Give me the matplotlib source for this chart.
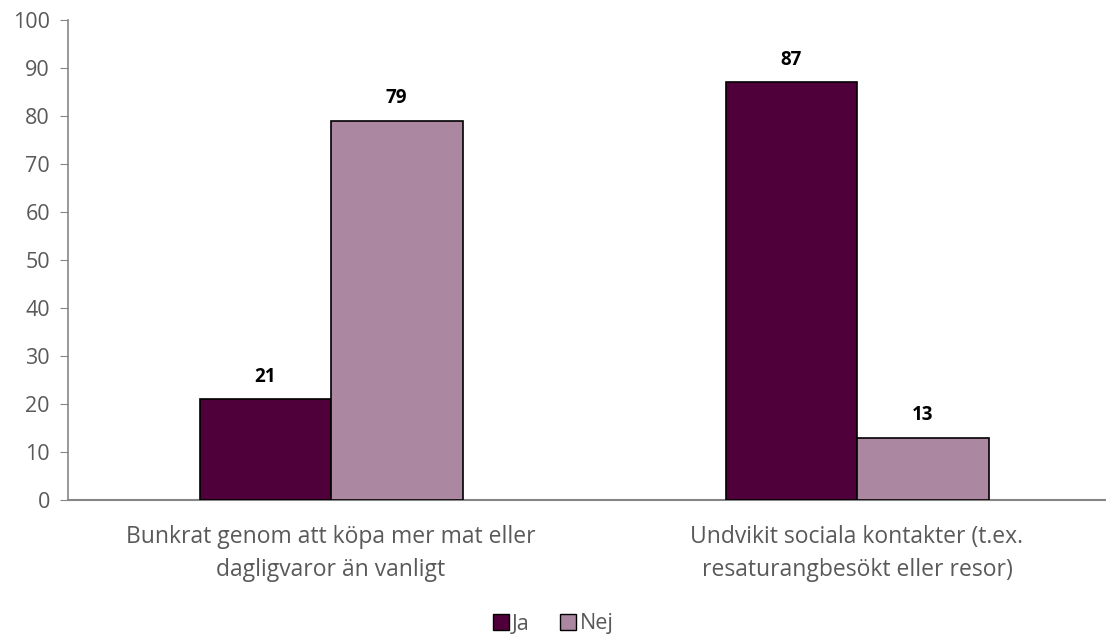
import matplotlib
matplotlib.use("Agg")
import matplotlib.pyplot as plt
import numpy as np
from matplotlib.patches import Patch

categories = ["Bunkrat genom att köpa mer mat eller\ndagligvaror än vanligt",
              "Undvikit sociala kontakter (t.ex.\nresaturangbesökt eller resor)"]
series_names = ["Ja", "Nej"]
ja_values = [21, 87]
nej_values = [79, 13]
y_ticks = [0, 10, 20, 30, 40, 50, 60, 70, 80, 90, 100]

colors = ["#4F003B", "#AB87A1"]
plt.rcParams['font.family'] = ['Open Sans', 'DejaVu Sans']

fig = plt.figure(figsize=(11.06, 6.36), dpi=100)
ax = fig.add_axes([68/1106, (636-500)/636, (1106-68)/1106, 480/636])

x = np.arange(len(categories))
w = 0.25
for i, (vals, name) in enumerate([(ja_values, "Ja"), (nej_values, "Nej")]):
    pos = x - w/2 + i*w
    bars = ax.bar(pos, vals, width=w, color=colors[i], edgecolor="black", linewidth=1.2, zorder=3)
    for b, v in zip(bars, vals):
        ax.annotate(str(v), (b.get_x() + b.get_width()/2, v), xytext=(0, 9),
                    textcoords="offset points", ha="center", va="bottom",
                    fontsize=13.5, fontweight="bold", color="black")

ax.set_ylim(0, 100)
ax.set_xlim(-0.5, -0.5 + 1038/526)
ax.set_yticks(y_ticks)
ax.set_xticks(x)
ax.set_xticklabels(categories, fontsize=16.5, color="#595959", linespacing=1.5)
ax.tick_params(axis="x", length=0, pad=18)
ax.tick_params(axis="y", length=6, color="#868686", labelsize=15.5, labelcolor="#595959", pad=7)
for s in ["top", "right"]:
    ax.spines[s].set_visible(False)
ax.spines["left"].set_color("#868686")
ax.spines["bottom"].set_color("#868686")
ax.spines["left"].set_linewidth(1.2)
ax.spines["bottom"].set_linewidth(1.5)

handles = [Patch(facecolor=colors[0], edgecolor="black", label="Ja"),
           Patch(facecolor=colors[1], edgecolor="black", label="Nej")]
fig.legend(handles=handles, loc="center", bbox_to_anchor=(553/1106, 1 - 624/636), ncol=2,
           frameon=False, fontsize=15.5, handlelength=0.75, handleheight=0.75,
           handletextpad=0.15, columnspacing=1.4, labelcolor="#595959")

fig.savefig("out.png", dpi=100)
